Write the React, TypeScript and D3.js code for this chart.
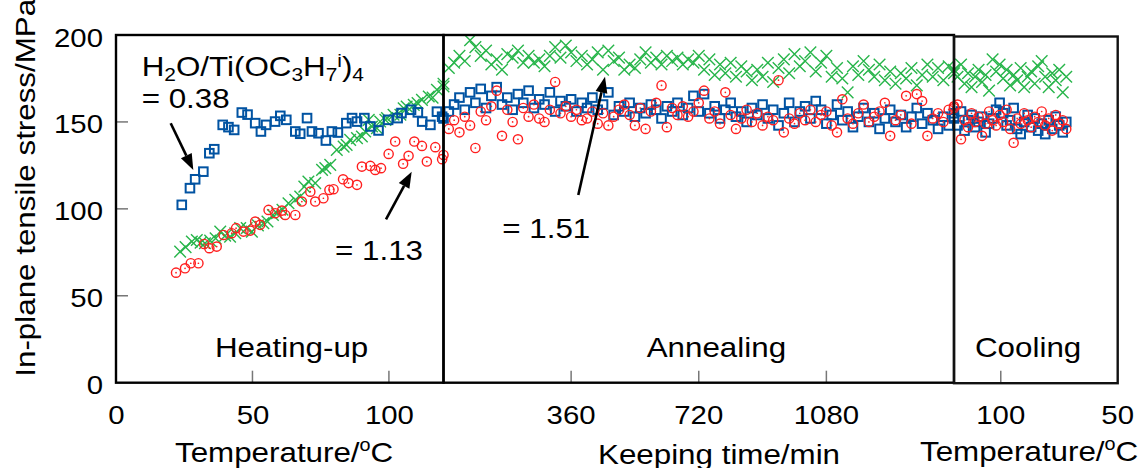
import React from "react";
import * as d3 from "d3";

// ---------- DATA ----------
// Heating-up (temperature in °C)
const blueHeatT = [24.1, 27.1, 29, 32, 34.2, 36, 39.1, 41.2, 43.3, 46.1, 48.2, 51, 53.1, 55, 58.3, 60.2, 62.4, 65.7, 67.5, 70, 71.8, 74.2, 76.9, 79.1, 81.3, 84.4, 86.5, 88.3, 91, 93.2, 96.2, 99.7, 103.2, 104.6, 108.1, 110.6, 112.2, 115.2, 117.6, 119.5];
const blueHeatV = [102.3, 111.9, 117, 121.4, 132, 134.3, 148.3, 147, 145.4, 155.4, 154.2, 149.3, 144.5, 148.3, 150.2, 153.5, 151.2, 144.5, 143.2, 152.2, 144.5, 143.5, 139.3, 144.5, 143.9, 149.3, 152.2, 150.2, 152.2, 147.4, 145.1, 151.2, 152.2, 155.1, 157, 155.5, 150.2, 148.3, 155.9, 153];

const greenHeatT = [23.5, 25.5, 27.8, 29.6, 31, 32.6, 34.5, 36.5, 38.2, 40, 41.8, 43.7, 45.5, 47.9, 49.8, 52, 54, 55.5, 57.5, 59, 61, 63.2, 65.7, 67.5, 69, 70.5, 73, 75.5, 76.7, 78.5, 80.9, 83.4, 84.5, 85.8, 88.3, 90.1, 91.3, 92.6, 93.8, 95.6, 96.8, 98.7, 99.3, 101.7, 104.2, 105.4, 106.5, 109.1, 110.5, 112.1, 114.6, 116, 117.6, 120];
const greenHeatV = [75.4, 78, 81.2, 82.1, 80.5, 80.2, 81.7, 83, 86.9, 84.5, 84, 86, 88.9, 88.9, 86.9, 90.5, 91.7, 92.7, 96.5, 97.5, 99.5, 103.2, 105.2, 107.1, 112.8, 115.7, 114.8, 122.4, 123.4, 125.3, 133.9, 135.8, 136.8, 139.7, 140.7, 141.6, 144.5, 151.2, 147.4, 146.4, 150.2, 151.2, 152.2, 154.1, 154.1, 157.9, 158.9, 159.8, 160.8, 162.7, 164.6, 164, 168.5, 170.4];

const redHeatT = [22, 25.3, 27.4, 30.2, 32.3, 34.2, 36.9, 39.4, 42.4, 44, 46.7, 49.2, 51, 52.8, 55.9, 58.3, 60.8, 62, 65.7, 68.1, 71.2, 73, 76, 78.2, 79.7, 83.2, 85.2, 88.3, 90.1, 93.2, 95, 97.1, 99.9, 102.3, 105.2, 107.2, 109.3, 112.1, 113.9, 117, 119.5];
const redHeatV = [63.3, 65.8, 68.7, 68.7, 79.8, 77.4, 78.3, 85, 86, 88.9, 86.9, 87.5, 92.7, 90.8, 99.4, 97.5, 99, 96.5, 96.5, 104.2, 109.9, 104.2, 106.1, 110.9, 111.3, 117, 114.8, 113.8, 124.3, 124.7, 122.4, 123.4, 131.6, 138.7, 125.9, 130.5, 138.7, 136.2, 127.2, 135.5, 128.6];

// Annealing (keeping time in min, every 15 min)
const annealTime = [0, 15, 30, 45, 60, 75, 90, 105, 120, 135, 150, 165, 180, 195, 210, 225, 240, 255, 270, 285, 300, 315, 330, 345, 360, 375, 390, 405, 420, 435, 450, 465, 480, 495, 510, 525, 540, 555, 570, 585, 600, 615, 630, 645, 660, 675, 690, 705, 720, 735, 750, 765, 780, 795, 810, 825, 840, 855, 870, 885, 900, 915, 930, 945, 960, 975, 990, 1005, 1020, 1035, 1050, 1065, 1080, 1095, 1110, 1125, 1140, 1155, 1170, 1185, 1200, 1215, 1230, 1245, 1260, 1275, 1290, 1305, 1320, 1335, 1350, 1365, 1380, 1395, 1410, 1425, 1440];
const greenAnneal = [172, 181, 184, 188, 185, 197, 193, 188, 191, 183, 186, 180, 189, 187, 191, 184, 188, 184, 186, 182, 188, 193, 187, 194, 190, 185, 188, 183, 186, 190, 180, 191, 185, 187, 180, 183, 181, 186, 190, 184, 187, 183, 188, 185, 187, 183, 186, 184, 188, 180, 186, 177, 183, 178, 184, 176, 182, 179, 174, 180, 176, 184, 173, 181, 186, 178, 189, 182, 185, 190, 179, 184, 188, 176, 181, 175, 167, 182, 177, 185, 180, 176, 183, 174, 179, 172, 178, 175, 181, 171, 177, 183, 176, 181, 174, 182, 178];
const blueAnneal = [152, 156, 160, 164, 157, 167, 161, 169, 158, 165, 170, 160, 164, 157, 166, 161, 168, 158, 163, 160, 167, 156, 162, 159, 163, 156, 161, 158, 164, 157, 160, 167, 154, 159, 156, 161, 153, 158, 155, 160, 157, 152, 159, 156, 161, 154, 158, 165, 156, 166, 155, 159, 152, 157, 161, 153, 156, 150, 158, 154, 160, 152, 157, 148, 155, 161, 150, 156, 159, 152, 162, 157, 149, 154, 160, 151, 156, 147, 153, 158, 150, 155, 146, 152, 157, 150, 154, 147, 153, 158, 149, 155, 151, 146, 153, 148, 155];
const redAnneal = [131, 146, 151, 144, 153, 148, 135, 156, 151, 159, 168, 142, 157, 150, 140, 158, 153, 160, 152, 150, 157, 173, 155, 159, 153, 157, 151, 152, 156, 149, 155, 148, 153, 157, 160, 154, 148, 158, 146, 156, 161, 171, 147, 158, 154, 159, 153, 156, 161, 168, 152, 156, 149, 167, 154, 146, 152, 157, 150, 155, 148, 153, 151, 174, 144, 152, 149, 155, 151, 157, 150, 154, 156, 148, 144, 163, 152, 149, 155, 160, 150, 153, 156, 161, 142, 151, 154, 165, 149, 166, 162, 142, 152, 155, 150, 157, 159];

// Cooling (temperature in °C)
const coolTemp = [120, 118.5, 117, 115.5, 114, 112.5, 111, 109.5, 108, 106.5, 105, 103.5, 102, 100.5, 99, 97.5, 96, 94.5, 93, 91.5, 90, 88.5, 87, 85.5, 84, 82.5, 81, 79.5, 78, 76.5, 75, 73.5, 72];
const greenCool = [180, 176, 183, 172, 178, 170, 176, 180, 173, 177, 168, 186, 179, 183, 175, 180, 171, 177, 174, 181, 170, 176, 179, 172, 182, 185, 176, 170, 178, 174, 180, 167, 176];
const blueCool = [152, 148, 156, 145, 151, 154, 147, 150, 153, 144, 149, 152, 157, 161, 155, 148, 151, 158, 146, 143, 150, 154, 147, 152, 145, 149, 143, 151, 146, 153, 148, 144, 150];
const redCool = [158, 160, 140, 151, 147, 155, 150, 153, 142, 149, 156, 151, 148, 154, 150, 157, 146, 138, 152, 149, 155, 151, 147, 153, 150, 156, 148, 152, 145, 154, 149, 151, 146];

const yTicks = [0, 50, 100, 150, 200];
const heatTicks = [0, 50, 100];
const annealTicks = [360, 720, 1080];
const coolTicks = [100, 50];

// ---------- STYLE ----------
const FONT = "'Liberation Sans', Arial, Helvetica, sans-serif";
const BLUE = "#0153A2";
const RED = "#FF1F1F";
const GREEN = "#27B54A";

const yScale = d3.scaleLinear().domain([0, 200]).range([382.7, 35]);
const xHeat = d3.scaleLinear().domain([0, 120]).range([116, 443.5]);
const xAnneal = d3.scaleLinear().domain([0, 1440]).range([443.5, 954]);
const xCool = d3.scaleLinear().domain([120, 50]).range([954, 1117.7]);

function Txt({ x, y, size = 28.5, anchor = "start", sx = 1.1, rotate = 0, children }: any) {
  return (
    <text
      transform={`translate(${x},${y})${rotate ? ` rotate(${rotate})` : ""} scale(${sx},1)`}
      fontSize={size}
      textAnchor={anchor}
      fontFamily={FONT}
      fill="#000"
    >
      {children}
    </text>
  );
}

function Square({ cx, cy }: any) {
  return <rect x={cx - 4.3} y={cy - 4.3} width={8.6} height={8.6} fill="none" stroke={BLUE} strokeWidth={2} />;
}
function Ring({ cx, cy }: any) {
  return (
    <g>
      <circle cx={cx} cy={cy} r={4.6} fill="none" stroke={RED} strokeWidth={1.4} />
      <circle cx={cx} cy={cy} r={0.85} fill={RED} />
    </g>
  );
}
function Cross({ cx, cy }: any) {
  return (
    <path
      d={`M${cx - 5.8},${cy - 5.8}L${cx + 5.8},${cy + 5.8}M${cx - 5.8},${cy + 5.8}L${cx + 5.8},${cy - 5.8}`}
      stroke={GREEN}
      strokeWidth={1.4}
      fill="none"
    />
  );
}

function Arrow({ x1, y1, x2, y2 }: any) {
  const ang = Math.atan2(y2 - y1, x2 - x1);
  const L = 16, W = 6;
  const bx = x2 - L * Math.cos(ang), by = y2 - L * Math.sin(ang);
  const px = -Math.sin(ang) * W, py = Math.cos(ang) * W;
  return (
    <g>
      <line x1={x1} y1={y1} x2={bx} y2={by} stroke="#000" strokeWidth={2.6} />
      <polygon points={`${x2},${y2} ${bx + px},${by + py} ${bx - px},${by - py}`} fill="#000" />
    </g>
  );
}

export default function App() {
  const tickStroke = "#777";
  const sets = (xs: number[], vs: number[], xsc: any) => xs.map((t, i) => ({ x: xsc(t), y: yScale(vs[i]) }));

  const greens = [
    ...sets(greenHeatT, greenHeatV, xHeat),
    ...sets(annealTime, greenAnneal, xAnneal),
    ...sets(coolTemp, greenCool, xCool),
  ];
  const blues = [
    ...sets(blueHeatT, blueHeatV, xHeat),
    ...sets(annealTime, blueAnneal, xAnneal),
    ...sets(coolTemp, blueCool, xCool),
  ];
  const reds = [
    ...sets(redHeatT, redHeatV, xHeat),
    ...sets(annealTime, redAnneal, xAnneal),
    ...sets(coolTemp, redCool, xCool),
  ];

  const y0 = yScale(0), yTop = yScale(200);

  return (
    <svg width={1140} height={468} style={{ position: "absolute", left: 0, top: 0, background: "#fff" }}>
      <rect width={1140} height={468} fill="#fff" />

      {/* ticks */}
      {yTicks.filter((t) => t > 0 && t < 200).map((t) => (
        <line key={"yt" + t} x1={115} x2={128} y1={yScale(t)} y2={yScale(t)} stroke={tickStroke} strokeWidth={1.5} />
      ))}
      {heatTicks.filter((t) => t > 0).map((t) => (
        <line key={"ht" + t} x1={xHeat(t)} x2={xHeat(t)} y1={y0} y2={y0 - 12} stroke={tickStroke} strokeWidth={1.5} />
      ))}
      {annealTicks.map((t) => (
        <line key={"at" + t} x1={xAnneal(t)} x2={xAnneal(t)} y1={y0} y2={y0 - 12} stroke={tickStroke} strokeWidth={1.5} />
      ))}
      {coolTicks.filter((t) => t !== 50).map((t) => (
        <line key={"ct" + t} x1={xCool(t)} x2={xCool(t)} y1={y0} y2={y0 - 12} stroke={tickStroke} strokeWidth={1.5} />
      ))}

      {/* data */}
      {greens.map((p, i) => <Cross key={"g" + i} cx={p.x} cy={p.y} />)}
      {blues.map((p, i) => <Square key={"b" + i} cx={p.x} cy={p.y} />)}
      {reds.map((p, i) => <Ring key={"r" + i} cx={p.x} cy={p.y} />)}

      {/* panel frames */}
      <rect x={xHeat(0)} y={yTop} width={xHeat(120) - xHeat(0)} height={y0 - yTop} fill="none" stroke="#000" strokeWidth={2.4} />
      <rect x={xAnneal(0)} y={yTop} width={xAnneal(1440) - xAnneal(0)} height={y0 - yTop} fill="none" stroke="#000" strokeWidth={2.4} />
      <rect x={xCool(120)} y={yTop + 1.5} width={xCool(50) - xCool(120)} height={y0 - yTop - 1} fill="none" stroke="#111" strokeWidth={2.4} />

      {/* y tick labels */}
      {yTicks.map((t) => (
        <Txt key={"yl" + t} x={103} y={yScale(t) + 11.5} size={26} sx={1.13} anchor="end">{t}</Txt>
      ))}
      {/* x tick labels */}
      {heatTicks.map((t) => (
        <Txt key={"hl" + t} x={xHeat(t) + 0.5} y={424} size={26} sx={1.13} anchor="middle">{t}</Txt>
      ))}
      {annealTicks.map((t) => (
        <Txt key={"al" + t} x={xAnneal(t)} y={424} size={26} sx={1.13} anchor="middle">{t}</Txt>
      ))}
      {coolTicks.map((t) => (
        <Txt key={"cl" + t} x={xCool(t)} y={424} size={26} sx={1.13} anchor="middle">{t}</Txt>
      ))}

      {/* axis titles */}
      <Txt x={35} y={376.7} rotate={-90}>In-plane tensile stress/MPa</Txt>
      <Txt x={175} y={461.5}>
        Temperature/<tspan fontSize={18} dy={-11}>o</tspan><tspan dy={11}>C</tspan>
      </Txt>
      <Txt x={598} y={463.5}>Keeping time/min</Txt>
      <Txt x={920} y={460.5}>
        Temperature/<tspan fontSize={18} dy={-11}>o</tspan><tspan dy={11}>C</tspan>
      </Txt>

      {/* phase labels */}
      <Txt x={215} y={356.7}>Heating-up</Txt>
      <Txt x={646.7} y={356.7}>Annealing</Txt>
      <Txt x={975} y={356.7}>Cooling</Txt>

      {/* annotations */}
      <Txt x={141.7} y={76}>
        H<tspan fontSize={19} dy={5}>2</tspan><tspan dy={-5}>O/Ti(OC</tspan><tspan fontSize={19} dy={5}>3</tspan><tspan dy={-5}>H</tspan><tspan fontSize={19} dy={5}>7</tspan><tspan fontSize={19} dy={-14}>i</tspan><tspan dy={9}>)</tspan><tspan fontSize={19} dy={5}>4</tspan>
      </Txt>
      <Txt x={141.7} y={108.3}>= 0.38</Txt>
      <Txt x={335} y={260}>= 1.13</Txt>
      <Txt x={502.3} y={238.3}>= 1.51</Txt>

      <Arrow x1={170.7} y1={123.3} x2={193.3} y2={170} />
      <Arrow x1={386} y1={219.3} x2={411.7} y2={171.7} />
      <Arrow x1={578.3} y1={195} x2={605} y2={76.7} />
    </svg>
  );
}
